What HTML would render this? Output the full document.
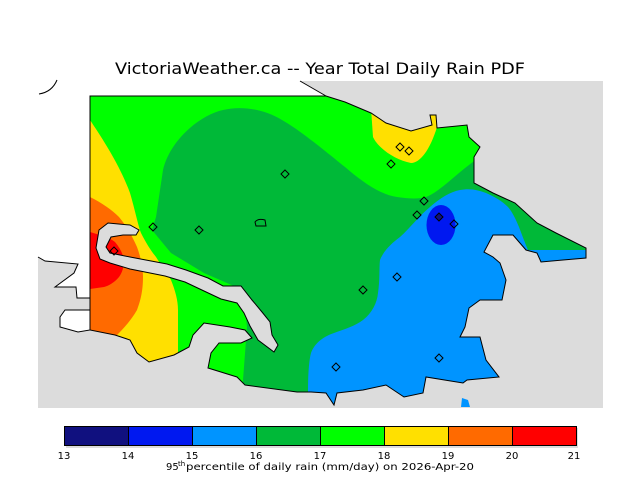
<!DOCTYPE html>
<html><head><style>
html,body{margin:0;padding:0;background:#fff;}
svg{display:block;}
text{font-family:"DejaVu Sans","Liberation Sans",sans-serif;fill:#000;}
</style></head><body>
<svg width="640" height="480" viewBox="0 0 640 480" xmlns="http://www.w3.org/2000/svg">
<defs>
<clipPath id="land"><path id="landp" d="M90,96 L326,96 345,102 371,113 386,123 411,131 432,125 430,115 436,115 437,128 467,125 469,137 480,147 474,157 474,183 493,193 515,203 537,223 556,233 586,248 586,258 563,260 541,262 537,253 526,250 513,235 493,235 484,252 493,257 500,263 506,280 502,300 480,300 469,308 465,327 460,337 480,337 486,360 499,377 467,380 463,383 426,377 423,393 404,397 386,385 363,390 337,393 334,405 326,393 311,392 297,392 245,385 237,377 208,368 211,353 219,343 241,343 252,338 245,330 230,327 204,323 193,335 189,347 174,355 149,362 137,353 130,340 115,335 90,330 Z"/></clipPath>
</defs>
<text x="115" y="74" font-size="16" textLength="410" lengthAdjust="spacingAndGlyphs" fill="#111">VictoriaWeather.ca -- Year Total Daily Rain PDF</text>
<rect x="38" y="81" width="565" height="327" fill="#dcdcdc"/>
<path d="M38,81 L300,81 326,96 90,96 90,298 77,298 76,287 55,287 74,273 78,264 45,261 38,257 Z" fill="#fff"/>
<path d="M60,317 65,310 90,310 90,330 78,332 60,327 Z" fill="#fff" stroke="#000" stroke-width="1"/>
<path d="M38,257 45,261 78,264 74,273 55,287 76,287 77,298 90,298" fill="none" stroke="#000" stroke-width="1"/>
<path d="M300,81 L326,96" fill="none" stroke="#000"/>
<path d="M39,94 Q52,92 57,80" fill="none" stroke="#000"/>
<g clip-path="url(#land)">
<rect x="80" y="90" width="530" height="330" fill="#00ff00"/>
<path d="M156,217 163,170 C170,140 200,115 223,110 C240,106 262,108 282,120 C300,130 330,155 345,167 C360,180 380,195 397,197 C410,199 420,199 426,197 C440,192 460,170 480,157 L600,157 600,420 239,420 243,380 247,327 243,290 204,273 171,253 152,230 Z" fill="#00b938"/>
<path d="M371,108 373,137 C378,148 395,160 411,163 C420,163 430,150 437,127 L440,108 Z" fill="#ffe000"/>
<path d="M80,90 L90,120 C100,135 120,165 130,193 C135,210 138,225 141,233 C147,245 152,252 156,257 C163,268 168,275 171,280 C175,290 178,300 178,310 L178,353 178,420 80,420 Z" fill="#ffe000"/>
<path d="M80,190 L90,197 C102,203 112,210 119,217 C128,228 133,238 137,247 C141,258 143,268 143,277 C143,292 140,302 137,310 C130,322 122,330 115,337 L80,345 Z" fill="#ff6a00"/>
<path d="M80,232 L90,232 C100,235 110,238 115,242 C120,248 123,254 124,260 C124,267 122,273 119,277 C114,283 108,286 104,287 L90,289 80,289 Z" fill="#ff0000"/>
<path d="M308,420 L308,390 C308,375 309,360 311,353 C315,342 325,336 334,333 C345,329 355,326 363,320 C372,313 377,303 378,293 C380,280 379,268 380,260 C384,250 392,243 400,237 C410,228 420,215 430,207 C440,198 450,192 460,190 C470,188 478,190 486,193 C495,197 502,201 508,207 C513,213 516,220 519,227 C522,235 525,243 528,250 L600,250 600,420 Z" fill="#0094ff"/>
<ellipse cx="441" cy="225" rx="14.5" ry="20" fill="#0018f0"/>
</g>
<use href="#landp" fill="none" stroke="#000" stroke-width="1"/>
<path d="M99,230 108,223 130,225 139,230 136,235 123,235 111,237 106,247 110,253 130,257 167,264 186,270 208,278 223,286 241,286 252,300 262,312 270,322 272,335 278,345 274,352 258,340 250,326 244,313 237,303 221,299 204,291 185,282 165,276 130,269 110,263 100,259 96,248 Z" fill="#dcdcdc" stroke="#000" stroke-width="1"/>
<path d="M461,407 462,398 468,400 470,407 Z" fill="#0094ff"/>
<path d="M255,222 Q258,218 265,220 L266,226 L256,226 Z" fill="none" stroke="#000"/>
<g fill="none" stroke="#000" stroke-width="1">
<path d="M400,143l4,4-4,4-4-4z"/><path d="M409,147l4,4-4,4-4-4z"/><path d="M391,160l4,4-4,4-4-4z"/>
<path d="M285,170l4,4-4,4-4-4z"/><path d="M424,197l4,4-4,4-4-4z"/><path d="M417,211l4,4-4,4-4-4z"/>
<path d="M454,220l4,4-4,4-4-4z"/><path d="M153,223l4,4-4,4-4-4z"/><path d="M199,226l4,4-4,4-4-4z"/>
<path d="M114,247l4,4-4,4-4-4z"/><path d="M397,273l4,4-4,4-4-4z"/><path d="M363,286l4,4-4,4-4-4z"/>
<path d="M439,354l4,4-4,4-4-4z"/><path d="M336,363l4,4-4,4-4-4z"/>
</g>
<path d="M439,213l4,4-4,4-4-4z" fill="#10107f" stroke="#000"/>
<rect x="66" y="428" width="512" height="20" fill="#dcdcdc"/>
<g stroke="#000" stroke-width="1">
<rect x="64.5" y="426.5" width="64" height="19" fill="#10107f"/>
<rect x="128.5" y="426.5" width="64" height="19" fill="#0018f0"/>
<rect x="192.5" y="426.5" width="64" height="19" fill="#0094ff"/>
<rect x="256.5" y="426.5" width="64" height="19" fill="#00b938"/>
<rect x="320.5" y="426.5" width="64" height="19" fill="#00ff00"/>
<rect x="384.5" y="426.5" width="64" height="19" fill="#ffe000"/>
<rect x="448.5" y="426.5" width="64" height="19" fill="#ff6a00"/>
<rect x="512.5" y="426.5" width="64" height="19" fill="#ff0000"/>
</g>
<g font-size="10" text-anchor="middle">
<text x="64" y="459">13</text><text x="128" y="459">14</text><text x="192" y="459">15</text><text x="256" y="459">16</text><text x="320" y="459">17</text><text x="384" y="459">18</text><text x="448" y="459">19</text><text x="512" y="459">20</text><text x="574" y="459">21</text>
</g>
<text x="166" y="470" font-size="10">95</text>
<text x="178" y="466" font-size="7">th</text>
<text x="186" y="470" font-size="10" textLength="288" lengthAdjust="spacingAndGlyphs">percentile of daily rain (mm/day) on 2026-Apr-20</text>
</svg>
</body></html>
